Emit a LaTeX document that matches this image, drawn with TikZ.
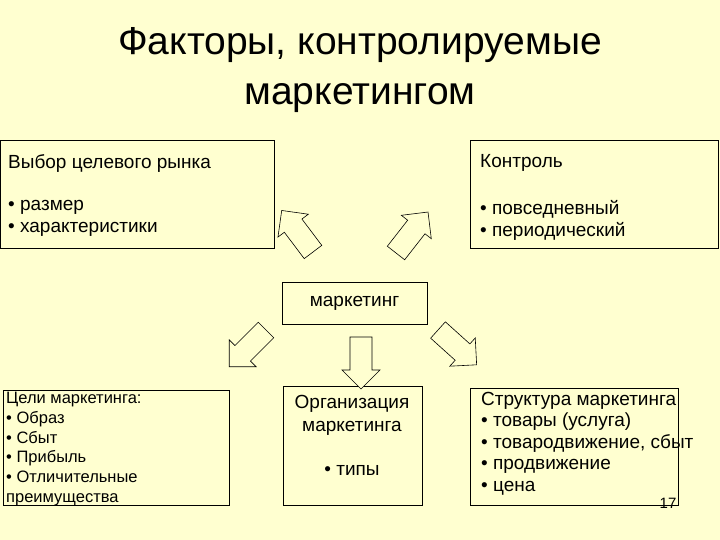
\documentclass[tikz,border=0pt]{standalone}
\usepackage{fontspec}
\setmainfont{Liberation Sans}
\definecolor{bg}{HTML}{FFFFD0}
\begin{document}
\begin{tikzpicture}[x=1pt,y=-1pt,
  box/.style={draw=black,line width=0.8pt},
  txt/.style={anchor=north west,inner sep=0pt,align=left,font=\fontsize{19}{22}\selectfont},
  barrow/.style={draw=black,line width=0.6pt,fill=bg}]
\fill[bg] (0,0) rectangle (720,540);
\useasboundingbox (0,0) rectangle (720,540);
\node (title) at (360,70) [align=center,font=\fontsize{39}{50}\selectfont] {Факторы, контролируемые\\маркетингом};
\draw[box] (0,140) rectangle (274,248);
\node[txt] (t1) at (8,154) {Выбор целевого рынка};
\node[txt] (t1b) at (8,200) {• размер\\• характеристики};
\draw[box] (470,140) rectangle (718,248);
\node[txt] (t2) at (480,154) {Контроль};
\node[txt] (t2b) at (480,200) {• повседневный\\• периодический};
\draw[box] (282,282) rectangle (427,324);
\node (m) at (354.5,303) [font=\fontsize{19}{22}\selectfont] {маркетинг};
\draw[box] (3,390) rectangle (229,505);
\node[txt] (t3) at (6,392) [font=\fontsize{16.5}{19.8}\selectfont] {Цели маркетинга:\\• Образ\\• Сбыт\\• Прибыль\\• Отличительные\\преимущества};
\draw[box] (283,386) rectangle (422,505);
\node (t4) at (352,415) [align=center,font=\fontsize{19}{23}\selectfont] {Организация\\маркетинга};
\node (t4b) at (352,470) [font=\fontsize{19}{22}\selectfont] {• типы};
\draw[box] (470,388) rectangle (678,505);
\node[txt] (t5) at (481,392) [font=\fontsize{19}{21.5}\selectfont] {Структура маркетинга\\• товары (услуга)\\• товародвижение, сбыт\\• продвижение\\• цена};
\node (pg) at (668,503) [font=\fontsize{15}{16}\selectfont] {17};
\foreach \px/\py/\ang in {313/252/127, 396/253/52, 266/330/-135, 361/337/-90, 438/330/-42}{
  \begin{scope}[shift={(\px,\py)},rotate=\ang]
    \draw[barrow] (0,-11) -- (33,-11) -- (33,-19) -- (52,0) -- (33,19) -- (33,11) -- (0,11) -- cycle;
  \end{scope}}
\end{tikzpicture}
\end{document}
